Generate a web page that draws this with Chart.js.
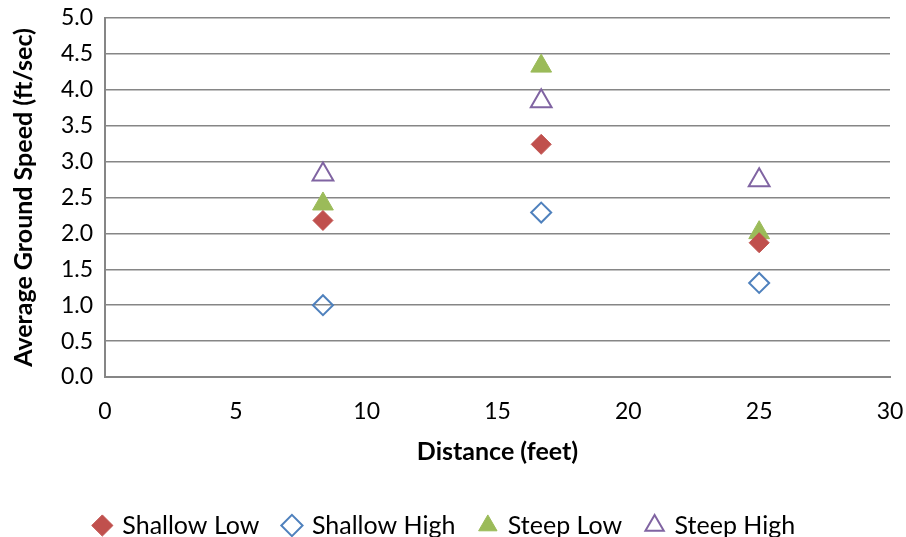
<!DOCTYPE html>
<html>
<head>
<meta charset="utf-8">
<script src="https://cdn.jsdelivr.net/npm/chart.js@4/dist/chart.umd.min.js"></script>
<style>
html,body{margin:0;padding:0;overflow:hidden;background:#fff;}
#wrap{width:906px;height:558px;position:relative;}
</style>
</head>
<body>
<div id="wrap"><canvas id="c"></canvas></div>
<script>
const distances = [8.33, 16.67, 25];
const shallowLow = [2.18, 3.24, 1.87];
const shallowHigh = [1.00, 2.29, 1.31];
const steepLow = [2.41, 4.33, 2.01];
const steepHigh = [2.82, 3.84, 2.74];
const seriesNames = ['Shallow Low', 'Shallow High', 'Steep Low', 'Steep High'];
const xTitle = 'Distance (feet)';
const yTitle = 'Average Ground Speed (ft/sec)';

const pts = arr => distances.map((x, i) => ({x: x, y: arr[i]}));
const FONT = 'Lato, "Open Sans", sans-serif';

const fixLegend = {
  id: 'fixLegend',
  beforeInit(chart) {
    const lg = chart.legend;
    if (!lg) return;
    const orig = lg.fit;
    lg.fit = function() { orig.call(this); this.height = 70; };
  }
};

new Chart(document.getElementById('c'), {
  type: 'scatter',
  plugins: [fixLegend],
  data: {
    datasets: [
      {label: seriesNames[0], data: pts(shallowLow), pointStyle: 'rectRot', pointRadius: 10, backgroundColor: '#C0504D', borderColor: '#C0504D', borderWidth: 1},
      {label: seriesNames[1], data: pts(shallowHigh), pointStyle: 'rectRot', pointRadius: 10, backgroundColor: 'rgba(255,255,255,0)', borderColor: '#4F81BD', borderWidth: 2},
      {label: seriesNames[2], data: pts(steepLow), pointStyle: 'triangle', pointRadius: 12, backgroundColor: '#9BBB59', borderColor: '#9BBB59', borderWidth: 1},
      {label: seriesNames[3], data: pts(steepHigh), pointStyle: 'triangle', pointRadius: 12, backgroundColor: 'rgba(255,255,255,0)', borderColor: '#8064A2', borderWidth: 2}
    ]
  },
  options: {
    responsive: true,
    maintainAspectRatio: false,
    animation: false,
    layout: {padding: {top: 18, right: 16, left: 0, bottom: 0}},
    plugins: {
      tooltip: {enabled: false},
      legend: {
        position: 'bottom',
        labels: {
          usePointStyle: true,
          font: {family: FONT, size: 25},
          color: '#000',
          padding: 25,
          boxWidth: 15,
          boxHeight: 15
        }
      }
    },
    scales: {
      x: {
        type: 'linear',
        min: 0, max: 30,
        ticks: {stepSize: 5, font: {family: FONT, size: 23}, color: '#000', padding: 21, maxRotation: 0},
        grid: {display: false, drawTicks: false},
        border: {display: true, color: '#868686', width: 2},
        title: {display: true, text: xTitle, font: {family: FONT, size: 25, weight: 'bold'}, color: '#000', padding: {top: 0, bottom: 21}},
        afterFit: s => { s.height = 111; s.paddingLeft = 0; s.paddingRight = 0; }
      },
      y: {
        min: 0, max: 5,
        ticks: {stepSize: 0.5, font: {family: FONT, size: 23}, color: '#000', padding: 12, callback: v => Number(v).toFixed(1)},
        grid: {display: true, drawTicks: false, color: '#868686', lineWidth: 1.5},
        border: {display: true, color: '#868686', width: 2},
        title: {display: true, text: yTitle, font: {family: FONT, size: 25, weight: 'bold'}, color: '#000', padding: {top: 9, bottom: 0}},
        afterFit: s => { s.width = 105; s.paddingTop = 0; s.paddingBottom = 0; }
      }
    }
  }
});
</script>
</body>
</html>
